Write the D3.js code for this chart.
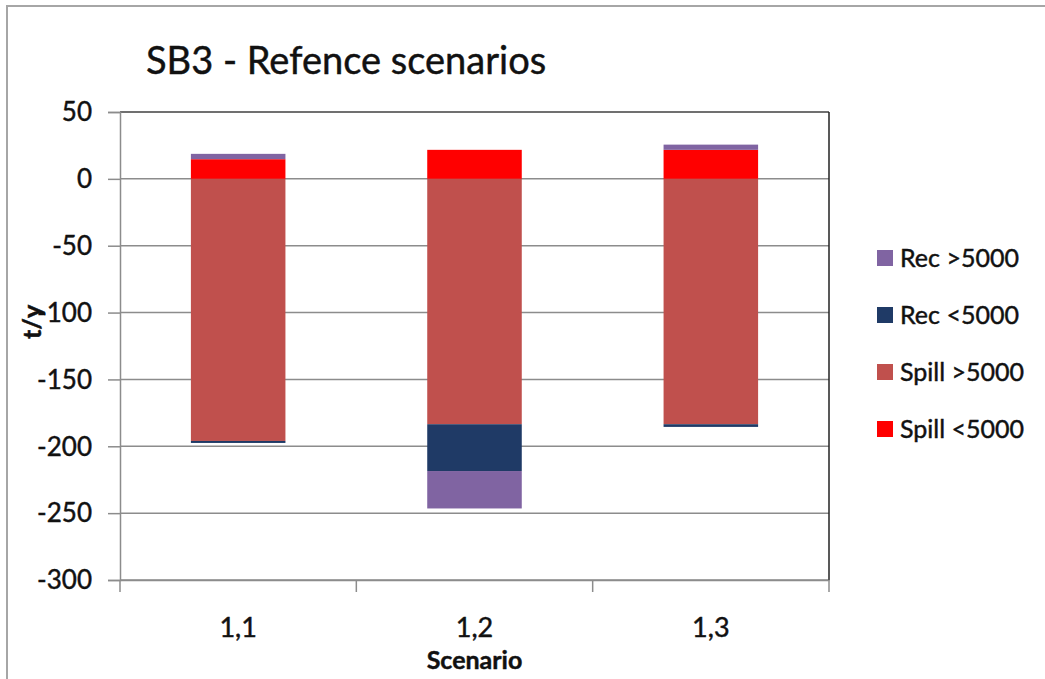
<!DOCTYPE html>
<html>
<head>
<meta charset="utf-8">
<script src="https://cdn.jsdelivr.net/npm/d3@7"></script>
<style>
  html, body { margin: 0; padding: 0; background: #fff; }
  svg { display: block; font-family: Lato, "Open Sans", sans-serif; }
  text { fill: #111; stroke: #111; stroke-width: 0.45px; }
</style>
</head>
<body>
<svg id="chart" width="1045" height="679"></svg>
<script>
// Scenario categories and stacked series values (t/y)
const scenarios = ["1,1", "1,2", "1,3"];
const spillBelow5000 = [14.7, 21.7, 21.7];
const spillAbove5000 = [-196, -183.5, -183.5];
const recBelow5000 = [-1.5, -35, -2];
const recAbove5000 = [4, -28, 3.9];
const yTicks = [50, 0, -50, -100, -150, -200, -250, -300];

// Stacking order (bottom to top); legend lists them in reverse
const seriesKeys = ["Spill <5000", "Spill >5000", "Rec <5000", "Rec >5000"];
const seriesValues = [spillBelow5000, spillAbove5000, recBelow5000, recAbove5000];
const seriesColors = ["#ff0000", "#c0504d", "#1f3a66", "#8064a2"];

const rows = scenarios.map((s, i) => {
  const r = { scenario: s };
  seriesKeys.forEach((k, j) => { r[k] = seriesValues[j][i]; });
  return r;
});

const svg = d3.select("#chart");

// Outer chart frame
svg.append("rect")
  .attr("x", 7).attr("y", 6).attr("width", 1100).attr("height", 700)
  .attr("fill", "none").attr("stroke", "#a6a6a6").attr("stroke-width", 2);

const plotLeft = 120, plotRight = 829, plotTop = 112, plotBottom = 580;

const x = d3.scaleBand().domain(scenarios).range([plotLeft, plotRight])
  .paddingInner(0.6).paddingOuter(0.3);
const y = d3.scaleLinear().domain([-300, 50]).range([plotBottom, plotTop]);

// Horizontal gridlines
svg.append("g").selectAll("line").data(yTicks).join("line")
  .attr("x1", plotLeft).attr("x2", plotRight)
  .attr("y1", d => y(d)).attr("y2", d => y(d))
  .attr("stroke", d => d === 50 ? "#404040" : "#8c8c8c")
  .attr("stroke-width", 1.5);

// Right border of plot area
svg.append("line")
  .attr("x1", plotRight).attr("x2", plotRight).attr("y1", plotTop).attr("y2", plotBottom)
  .attr("stroke", "#222").attr("stroke-width", 1.5);

// Stacked bars
const stack = d3.stack().keys(seriesKeys).offset(d3.stackOffsetDiverging);
const layers = stack(rows);
svg.append("g").selectAll("g").data(layers).join("g")
  .attr("fill", (d, i) => seriesColors[i])
  .selectAll("rect").data(d => d).join("rect")
  .attr("x", d => x(d.data.scenario))
  .attr("width", x.bandwidth())
  .attr("y", d => y(Math.max(d[0], d[1])))
  .attr("height", d => Math.abs(y(d[0]) - y(d[1])));

// Y axis (plain hyphen for negative numbers)
const yAxis = d3.axisLeft(y).tickValues(yTicks).tickSize(12).tickPadding(16)
  .tickFormat(d => String(d));
const gy = svg.append("g").attr("transform", `translate(${plotLeft},0)`).call(yAxis);
gy.select(".domain").attr("stroke", "#8c8c8c").attr("stroke-width", 1.5);
gy.selectAll(".tick line").attr("stroke", "#8c8c8c").attr("stroke-width", 1.5);
gy.selectAll(".tick text").attr("font-size", 26).attr("fill", "#111")
  .attr("font-family", "Lato, sans-serif").attr("dy", "0.34em");

// X axis with ticks at category boundaries
const xAxis = d3.axisBottom(x).tickSize(0).tickPadding(38);
const gx = svg.append("g").attr("transform", `translate(0,${plotBottom})`).call(xAxis);
gx.select(".domain").attr("stroke", "#8c8c8c").attr("stroke-width", 1.5);
gx.selectAll(".tick text").attr("font-size", 27).attr("fill", "#111")
  .attr("font-family", "Lato, sans-serif");
const step = x.step();
const boundaries = scenarios.map(s => x(s) - step * x.paddingInner() / 2).concat([plotRight]);
boundaries[0] = plotLeft;
svg.append("g").selectAll("line").data(boundaries).join("line")
  .attr("x1", d => d).attr("x2", d => d)
  .attr("y1", plotBottom).attr("y2", plotBottom + 12)
  .attr("stroke", "#8c8c8c").attr("stroke-width", 1.5);

// Titles
svg.append("text").attr("x", 146).attr("y", 74)
  .attr("font-size", 38).text("SB3 - Refence scenarios");

svg.append("text").attr("x", x("1,2") + x.bandwidth() / 2).attr("y", 669)
  .attr("text-anchor", "middle").attr("font-size", 25).attr("font-weight", "bold")
  .text("Scenario");

svg.append("text")
  .attr("transform", `translate(41,322) rotate(-90)`)
  .attr("text-anchor", "middle").attr("font-size", 25).attr("font-weight", "bold")
  .text("t/y");

// Legend
const legendKeys = seriesKeys.slice().reverse();
const legendColors = seriesColors.slice().reverse();
const lg = svg.append("g").selectAll("g").data(legendKeys).join("g")
  .attr("transform", (d, i) => `translate(877,${258 + i * 57})`);
lg.append("rect").attr("x", 0).attr("y", -8).attr("width", 16).attr("height", 16)
  .attr("fill", (d, i) => legendColors[i]);
lg.append("text").attr("x", 23).attr("y", 0).attr("dy", "0.35em")
  .attr("font-size", 25).text(d => d);
</script>
</body>
</html>
